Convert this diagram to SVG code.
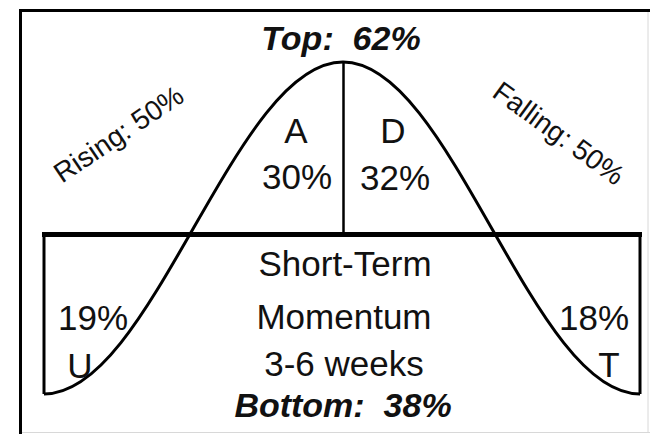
<svg xmlns="http://www.w3.org/2000/svg" width="650" height="434" viewBox="0 0 650 434">
<style>
.t{font-family:"Liberation Sans",Arial,sans-serif;fill:#111;text-anchor:middle}
.big{font-size:35px}
.hdr{font-size:34px;font-weight:bold;font-style:italic;white-space:pre}
.diag{font-size:28px}
.ln{stroke:#000;fill:none}
</style>
<rect width="650" height="434" fill="#fff"/>
<g id="frame">
<line class="ln" x1="20.5" y1="9" x2="20.5" y2="434" stroke-width="3"/>
<line class="ln" x1="19" y1="10.5" x2="650" y2="10.5" stroke-width="3"/>
<line x1="648" y1="12" x2="648" y2="432" stroke="#d8d8d8" stroke-width="1"/>
<line x1="22" y1="432.5" x2="650" y2="432.5" stroke="#d8d8d8" stroke-width="1"/>
</g>
<g id="connectors">
<line class="ln" x1="42" y1="234.5" x2="642" y2="234.5" stroke-width="5"/>
<line class="ln" x1="44" y1="233" x2="44" y2="394" stroke-width="3"/>
<line class="ln" x1="640" y1="233" x2="640" y2="394" stroke-width="3"/>
<line class="ln" x1="343.5" y1="62" x2="343.5" y2="234" stroke-width="2.5"/>
<path class="ln" stroke-width="3" d="M44,394 C98.1,394 144.8,313 193.5,228 C242.3,143 288.9,62 343,62 C396.7,62 443.1,143 491.5,228 C539.9,313 586.3,394 640,394"/>
</g>
<g id="top"><text class="t hdr" x="341" y="50">Top:  62%</text></g>
<g id="bottom"><text class="t hdr" x="343" y="417">Bottom:  38%</text></g>
<g id="rising"><text class="t diag" transform="translate(124,142) rotate(-34)">Rising: 50%</text></g>
<g id="falling"><text class="t diag" transform="translate(553,141) rotate(36)">Falling: 50%</text></g>
<g id="a"><text class="t big" x="296" y="143">A</text><text class="t big" x="297" y="189">30%</text></g>
<g id="d"><text class="t big" x="393" y="143">D</text><text class="t big" x="395" y="190">32%</text></g>
<g id="center">
<text class="t big" x="345" y="276">Short-Term</text>
<text class="t big" x="344" y="329">Momentum</text>
<text class="t big" x="344" y="376">3-6 weeks</text>
</g>
<g id="u"><text class="t big" x="93" y="330">19%</text><text class="t big" x="80" y="378">U</text></g>
<g id="tnode"><text class="t big" x="594" y="330">18%</text><text class="t big" x="609" y="377">T</text></g>
</svg>
